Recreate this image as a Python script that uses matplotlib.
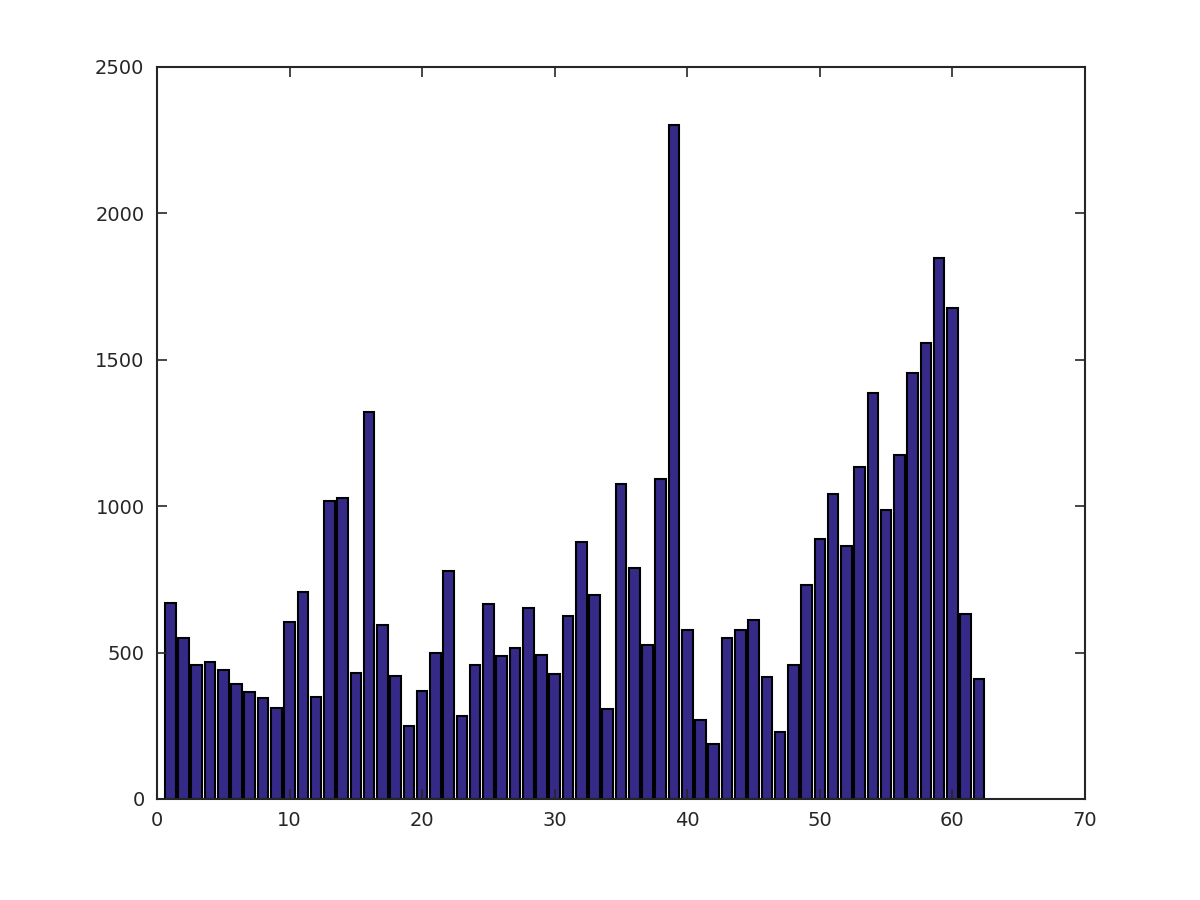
import matplotlib
matplotlib.use('Agg')
import matplotlib.pyplot as plt
import numpy as np

# bar heights, index 1..62
values = [669, 550, 458, 468, 441, 393, 365, 345, 311, 604,
          707, 348, 1018, 1028, 430, 1322, 594, 420, 249, 369,
          499, 779, 283, 458, 666, 488, 516, 652, 492, 427,
          625, 878, 697, 307, 1076, 789, 526, 1093, 2302, 577,
          270, 188, 550, 577, 611, 417, 229, 458, 731, 888,
          1042, 864, 1134, 1387, 987, 1175, 1455, 1557, 1848, 1677,
          632, 410]
x = np.arange(1, len(values) + 1)

fig = plt.figure(figsize=(12, 9), dpi=100)
ax = fig.add_axes([157/1200, 1 - 799/900, 928/1200, 732/900])

ax.bar(x, values, width=0.8, color='#352a87', edgecolor='black', linewidth=1.5)

ax.set_xlim(0, 70)
ax.set_ylim(0, 2500)
ax.set_xticks(np.arange(0, 71, 10))
ax.set_yticks(np.arange(0, 2501, 500))
ax.tick_params(direction='in', top=True, right=True, length=7, width=1.2,
               color='#262626', labelsize=14, labelcolor='#262626', pad=9)
for s in ax.spines.values():
    s.set_color('#262626')
    s.set_linewidth(1.5)

fig.savefig('out.png', dpi=100)
